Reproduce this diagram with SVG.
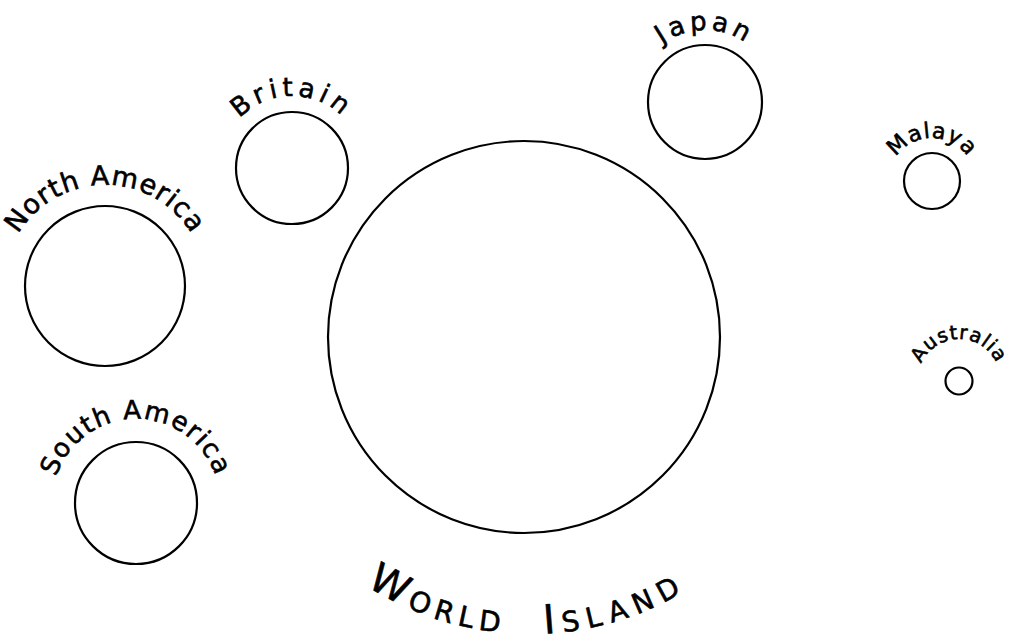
<svg xmlns="http://www.w3.org/2000/svg" xmlns:xlink="http://www.w3.org/1999/xlink" width="1011" height="641" viewBox="0 0 1011 641">
<style>
  .land { fill: none; stroke: #000; stroke-width: 2.2; }
  .lbl { font-family: "DejaVu Sans", "Liberation Sans", sans-serif; fill: #000; stroke: #000; stroke-width: 0.6; text-anchor: middle; }
</style>
<defs>
  <path id="p-na" d="M 4,286 A 101,101 0 0 1 206,286"/>
  <path id="p-sa" d="M 52,503 A 84,84 0 0 1 220,503"/>
  <path id="p-br" d="M 220,168 A 72,72 0 0 1 364,168"/>
  <path id="p-jp" d="M 633,102 A 72,72 0 0 1 777,102"/>
  <path id="p-ma" d="M 889,181 A 43,43 0 0 1 975,181"/>
  <path id="p-au" d="M 918,380 A 41,41 0 0 1 1000,380"/>
  <path id="p-wi" d="M 230,334 A 300,300 0 0 0 830,334"/>
</defs>
<rect width="1011" height="641" fill="#fff"/>

<g id="north-america">
  <circle class="land" cx="105" cy="286" r="80"/>
  <text class="lbl" font-size="27" letter-spacing="1"><textPath xlink:href="#p-na" href="#p-na" startOffset="50%">North America</textPath></text>
</g>

<g id="south-america">
  <circle class="land" cx="136" cy="503" r="61"/>
  <text class="lbl" font-size="26" letter-spacing="1.5"><textPath xlink:href="#p-sa" href="#p-sa" startOffset="50%">South America</textPath></text>
</g>

<g id="britain">
  <circle class="land" cx="292" cy="168" r="56"/>
  <text class="lbl" font-size="26" letter-spacing="4.5"><textPath xlink:href="#p-br" href="#p-br" startOffset="50%">Britain</textPath></text>
</g>

<g id="japan">
  <circle class="land" cx="705" cy="102" r="57"/>
  <text class="lbl" font-size="26" letter-spacing="4"><textPath xlink:href="#p-jp" href="#p-jp" startOffset="50%">Japan</textPath></text>
</g>

<g id="malaya">
  <circle class="land" cx="932" cy="181" r="28"/>
  <text class="lbl" font-size="22" letter-spacing="1"><textPath xlink:href="#p-ma" href="#p-ma" startOffset="50%">Malaya</textPath></text>
</g>

<g id="australia">
  <circle class="land" cx="959" cy="381" r="13.5"/>
  <text class="lbl" font-size="19.5" letter-spacing="1"><textPath xlink:href="#p-au" href="#p-au" startOffset="50%">Australia</textPath></text>
</g>

<g id="world-island">
  <circle class="land" cx="524" cy="337" r="196"/>
  <text class="lbl" font-size="28" letter-spacing="6"><textPath xlink:href="#p-wi" href="#p-wi" startOffset="39.5%"><tspan font-size="40">W</tspan>ORLD</textPath></text>
  <text class="lbl" font-size="28" letter-spacing="7.5"><textPath xlink:href="#p-wi" href="#p-wi" startOffset="59.6%"><tspan font-size="40">I</tspan>SLAND</textPath></text>
</g>
</svg>
